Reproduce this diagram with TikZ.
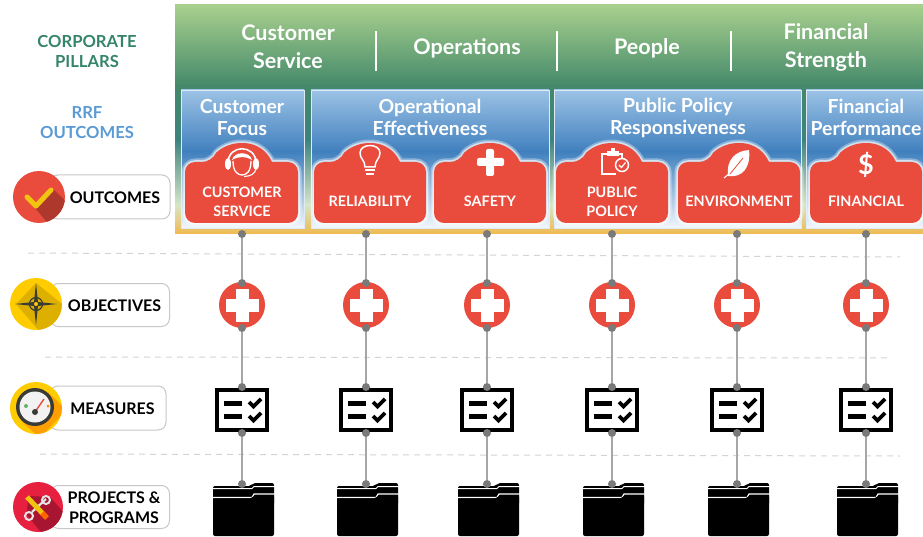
\documentclass[tikz,border=0pt]{standalone}
\usepackage{fontspec}
\setmainfont{Lato}
\usetikzlibrary{calc}
\definecolor{redb}{HTML}{E94B3C}
\definecolor{pillgreen}{HTML}{36856B}
\definecolor{rrfblue}{HTML}{5B9BD5}
\definecolor{dotgrey}{HTML}{7A7A7A}
\definecolor{linegrey}{HTML}{A6A6A6}
\definecolor{gold}{HTML}{FFCC00}
\definecolor{golddark}{HTML}{DDB000}
\definecolor{checky}{HTML}{F2C40F}
\definecolor{amber}{HTML}{FFA000}
\definecolor{crimson}{HTML}{E8203F}
\definecolor{crimsond}{HTML}{A81530}
\definecolor{darkicon}{HTML}{3A3A36}
\tikzset{
  x=1pt,y=-1pt,
  pilltext/.style={font=\bfseries\fontsize{16}{20}\selectfont,text=black,align=center,inner sep=0pt},
  pillbox/.style={draw=black!22,line width=1pt,fill=white,rounded corners=8pt,inner sep=0pt},
  sidetext/.style={font=\bfseries\fontsize{16.6}{20}\selectfont,align=center,inner sep=0pt},
  headtext/.style={font=\bfseries\fontsize{21.5}{28}\selectfont,text=white,align=center,inner sep=0pt},
  paneltext/.style={font=\bfseries\fontsize{19.4}{22}\selectfont,text=white,align=center,inner sep=0pt},
  badgetext/.style={font=\bfseries\fontsize{14.4}{19}\selectfont,text=white,align=center,inner sep=0pt},
  dotn/.style={circle,fill=dotgrey,minimum size=8pt,inner sep=0pt},
  conn/.style={draw=linegrey,line width=1.4pt},
  sepline/.style={draw=black!17,dashed,line width=1pt,dash pattern=on 6pt off 5pt},
  crossn/.style={circle,fill=redb,minimum size=46pt,inner sep=0pt},
  icon/.style={draw=white,line width=1.5pt,fill=none},
}
\newcommand{\panelbox}[2]{%
  \shade[top color={rgb,255:red,156;green,194;blue,229},bottom color={rgb,255:red,64;green,128;blue,190}] (#1,90) rectangle (#2,152);
  \shade[top color={rgb,255:red,64;green,128;blue,190},bottom color=white!92!rrfblue] (#1,151.5) rectangle (#2,228);
  \draw[white!80!rrfblue,line width=0.9pt] (#1,90) rectangle (#2,228);
}
\newcommand{\badgeshape}[3]{%
  (#3+30,162) [rounded corners=10pt] -- (#2,162) -- (#2,223) -- (#1,223) -- (#1,162) -- (#3-30,162) [sharp corners]
  .. controls (#3-26,153) and (#3-17,143) .. (#3,143)
  .. controls (#3+17,143) and (#3+26,153) .. (#3+30,162) -- cycle
}
\newcommand{\badge}[3]{%
  \path[draw=white,opacity=.35,line width=7pt,line join=round] \badgeshape{#1}{#2}{#3};
  \path[draw=white,opacity=.6,line width=3.5pt,line join=round] \badgeshape{#1}{#2}{#3};
  \path[fill=redb] \badgeshape{#1}{#2}{#3};
}
\newcommand{\checkmk}[2]{%
  \draw[black,line width=3.8pt] (#1-6,#2-1) -- (#1-1.5,#2+3.5) -- (#1+6,#2-4);
}
\newcommand{\measureicon}[2]{%
  \draw[black,line width=4.5pt,fill=white] (#1-25,#2-20) rectangle (#1+25,#2+20);
  \fill[black] (#1-18,#2-9) rectangle (#1+0,#2-4);
  \fill[black] (#1-18,#2+4) rectangle (#1+0,#2+9);
  \checkmk{#1+13}{#2-7}
  \checkmk{#1+13}{#2+7}
}
\newcommand{\foldericon}[1]{%
  \fill[black,rounded corners=2pt] (#1-29,486) -- (#1+9,486) -- (#1+11,483) -- (#1+32,483) -- (#1+32,505) -- (#1-29,505) -- cycle;
  \draw[white,line width=1pt] (#1-30,488.5) -- (#1+10,488.5) -- (#1+12,486.5) -- (#1+33,486.5);
  \draw[white,line width=1.2pt] (#1-30,497.5) -- (#1+10,497.5) -- (#1+12,494) -- (#1+33,494);
  \fill[black,rounded corners=2pt] (#1-29,498.5) -- (#1+10,498.5) -- (#1+12,495) -- (#1+32,495) -- (#1+32,536) -- (#1-29,536) -- cycle;
}
\begin{document}
\begin{tikzpicture}
\useasboundingbox (0,0) rectangle (923,537);
\fill[white] (0,0) rectangle (923,537);

% green band
\shade[top color={rgb,255:red,168;green,208;blue,141},bottom color={rgb,255:red,68;green,137;blue,106}] (175,5) rectangle (923,86);
\shade[top color={rgb,255:red,68;green,137;blue,106},bottom color={rgb,255:red,62;green,130;blue,125}] (175,85) rectangle (923,140);
\shade[top color={rgb,255:red,62;green,130;blue,125},bottom color={rgb,255:red,214;green,230;blue,200}] (175,139.5) rectangle (923,205);
\shade[top color={rgb,255:red,214;green,230;blue,200},bottom color={rgb,255:red,240;green,185;blue,80}] (175,204.5) rectangle (923,234);

% header
\node[headtext] (hcs) at (288,47) {Customer\\Service};
\node[headtext] (hop) at (467,48) {Operations};
\node[headtext] (hpe) at (647,48) {People};
\node[headtext] (hfs) at (826,47) {Financial\\Strength};
\foreach \xx in {376,557,731} \draw[white,line width=2.8pt] (\xx,31) -- (\xx,71);

% panels
\panelbox{181}{304}
\panelbox{311}{549}
\panelbox{554}{801}
\panelbox{806}{923}
\node[paneltext] (pcf) at (242,117.5) {Customer\\Focus};
\node[paneltext] (poe) at (430,117.5) {Operational\\Effectiveness};
\node[paneltext] (ppp) at (678,117.5) {Public Policy\\Responsiveness};
\node[paneltext] (pfp) at (866,117.5) {Financial\\Performance};

% badges
\badge{185}{298}{242}
\badge{314}{426}{370}
\badge{434}{546}{490}
\badge{556}{668}{612}
\badge{678}{800}{739}
\badge{810}{922}{866}
\node[badgetext] (bcs) at (242,201.5) {CUSTOMER\\SERVICE};
\node[badgetext] (bre) at (370,201) {RELIABILITY};
\node[badgetext] (bsa) at (490,201) {SAFETY};
\node[badgetext] (bpp) at (612,201.5) {PUBLIC\\POLICY};
\node[badgetext] (ben) at (739,201) {ENVIRONMENT};
\node[badgetext] (bfi) at (866,201) {FINANCIAL};

% badge icons
% headset
\draw[white,line width=1.6pt] (228,163) .. controls (228,144) and (256,144) .. (256,163);
\draw[white,line width=1.3pt] (233,161) .. controls (233,172) and (238,175) .. (242,175) .. controls (246,175) and (251,172) .. (251,161);
\fill[white] (232,160) .. controls (234,151) and (250,151) .. (252,160) .. controls (245,156) and (239,156) .. (232,160) -- cycle;
\fill[white] (228,164) ellipse (3 and 6) (256,164) ellipse (3 and 6);
\draw[white,line width=1.1pt] (256,168) .. controls (255,175) and (250,176) .. (244,176.5);
% bulb
\draw[icon] (365,167) .. controls (365,160) and (360,159) .. (360,153)
  .. controls (360,143) and (380,143) .. (380,153)
  .. controls (380,159) and (375,160) .. (375,167) -- cycle;
\draw[icon,line width=1.2pt] (365,170) -- (375,170) (366,174) -- (374,174);
% safety plus
\fill[white,rounded corners=2pt] (486,149) rectangle (494,176);
\fill[white,rounded corners=2pt] (477,158) rectangle (504,166);
% clipboard
\draw[icon,line width=2pt] (609,154) -- (602,154) -- (602,174) -- (616,174);
\draw[icon,line width=2pt] (618,154) -- (622,154) -- (622,158);
\fill[white] (607,151) rectangle (619,156);
\fill[white] (611,148) rectangle (615,152);
\draw[icon,line width=1.5pt] (622,165) circle (6.5);
\draw[icon,line width=1.2pt] (619,165) -- (621.5,167.5) -- (625.5,162.5);
% leaf
\fill[white] (749,150) .. controls (735,151) and (726,160) .. (728,176)
  .. controls (742,178) and (751,168) .. (749,150) -- cycle;
\draw[white,line width=1.1pt] (724,178) -- (730,173);
\draw[redb,line width=.8pt] (730,174) -- (743,158);
% dollar
\node[inner sep=0pt,font=\bfseries\fontsize{27}{27}\selectfont,text=white] (idollar) at (866,165) {\$};

% dashed separators
\coordinate (sa0) at (28,253); \coordinate (sa1) at (900,257);
\coordinate (sb0) at (45,357); \coordinate (sb1) at (890,358);
\coordinate (sc0) at (40,454); \coordinate (sc1) at (900,456);
\draw[sepline] (sa0) -- (sa1);
\draw[sepline] (sb0) -- (sb1);
\draw[sepline] (sc0) -- (sc1);

% columns
\foreach \n/\cx in {a/242,b/366,c/487,d/612,e/737,f/866} {
  \node[crossn] (ob\n) at (\cx,305) {};
  \fill[white] (\cx-6.5,305-16.5) rectangle (\cx+6.5,305+16.5);
  \fill[white] (\cx-16.5,305-6.5) rectangle (\cx+16.5,305+6.5);
  \measureicon{\cx}{410}
  \foldericon{\cx}
  \node[dotn] (t\n) at (\cx,234) {};
  \node[dotn] (u\n) at (\cx,283) {};
  \node[dotn] (v\n) at (\cx,328) {};
  \node[dotn] (w\n) at (\cx,387) {};
  \node[dotn] (x\n) at (\cx,433) {};
  \node[dotn] (y\n) at (\cx,484) {};
  \draw[conn] (t\n) -- (u\n);
  \draw[conn] (v\n) -- (w\n);
  \draw[conn] (x\n) -- (y\n);
}

% left labels
\node[sidetext,text=pillgreen] (lcp) at (87,52) {CORPORATE\\PILLARS};
\node[sidetext,text=rrfblue] (lrrf) at (87,122.5) {RRF\\OUTCOMES};

% pills
\node[pillbox,minimum width=120pt,minimum height=44pt] (pa) at (110,197) {};
\node[pillbox,minimum width=119pt,minimum height=43pt] (pb) at (110,305) {};
\node[pillbox,minimum width=116pt,minimum height=44pt] (pc) at (108,408) {};
\node[pillbox,minimum width=119pt,minimum height=43pt] (pd) at (110,507) {};
\node[pilltext] (ta) at (115,198) {OUTCOMES};
\node[pilltext] (tb) at (114.5,305.5) {OBJECTIVES};
\node[pilltext] (tc) at (112.5,409) {MEASURES};
\node[pilltext] (td) at (114,507.5) {PROJECTS \&\\PROGRAMS};

% outcomes icon
\fill[redb] (39,197) circle (26);
\begin{scope}
\clip (39,197) circle (26);
\fill[redb!75!black] (36,209) -- (54,190) -- (70,205) -- (50,226) -- cycle;
\end{scope}
\draw[checky,line width=5pt,line cap=round,line join=round] (27,197) -- (36,206) -- (51,190);

% objectives icon
\fill[gold] (36,304) circle (26);
\begin{scope}
\clip (36,304) circle (26);
\fill[golddark] (36,283) -- (62,304) -- (63,320) -- (40,332) -- (16,304) -- cycle;
\end{scope}
\fill[darkicon] (36,283) -- (38,302) -- (57,304) -- (38,306) -- (36,325) -- (34,306) -- (15,304) -- (34,302) -- cycle;
\draw[darkicon,line width=1.2pt] (36,304) circle (6.5);
\fill[gold] (36,304) circle (2);

% measures icon
\fill[gold] (36,408) circle (26);
\begin{scope}
\clip (36,408) circle (26);
\fill[amber] (22,422) -- (48,392) -- (66,410) -- (40,438) -- cycle;
\end{scope}
\fill[darkicon] (35,407) circle (19);
\fill[black!5] (35,407) circle (15.5);
\fill[green!50!black!60] (26,406) circle (2);
\fill[orange] (48,406) circle (1.5);
\draw[redb,line width=1.4pt] (35,412) -- (44,399);
\fill[darkicon] (35,412) circle (3);

% projects icon
\fill[crimson] (38,507) circle (25);
\begin{scope}
\clip (38,507) circle (25);
\fill[crimsond] (28,496) -- (50,497) -- (66,515) -- (44,536) -- (27,515) -- cycle;
\end{scope}
\draw[black!10,line width=2.2pt] (32,512) -- (46,499);
\draw[black!10,line width=2pt] (46,500) circle (4);
\draw[black!10,line width=2pt] (29,516) circle (4);
\draw[checky,line width=5pt] (27,497) -- (46,517);
\draw[orange!80!red,line width=5pt] (42,513) -- (47,518);
\end{tikzpicture}
\end{document}
